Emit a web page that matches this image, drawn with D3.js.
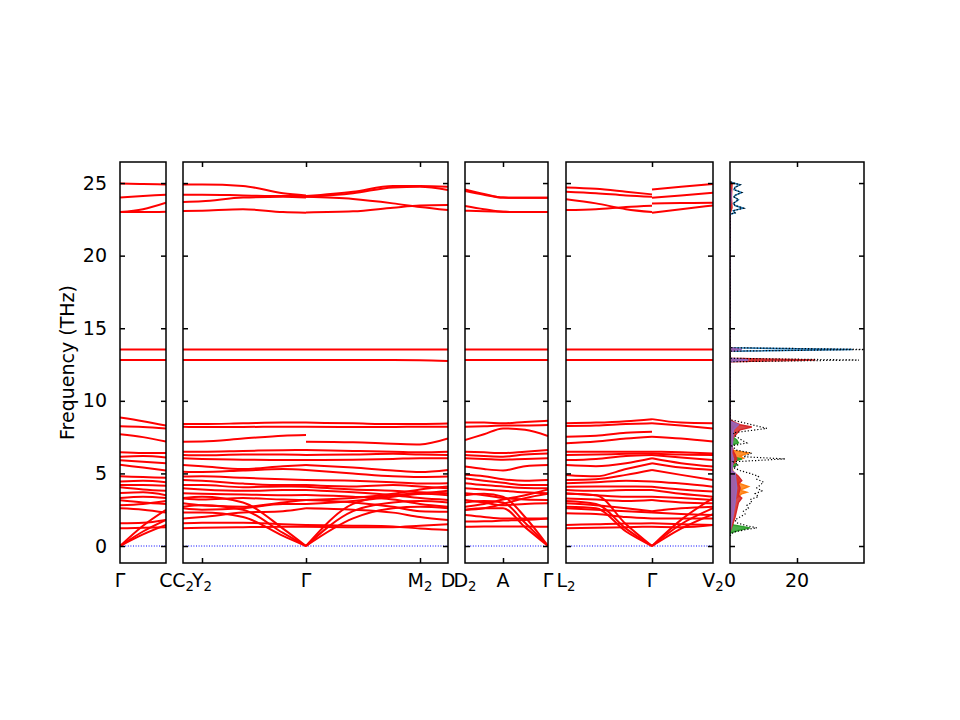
<!DOCTYPE html>
<html>
<head>
<meta charset="utf-8">
<script src="https://cdn.jsdelivr.net/npm/d3@7"></script>
<style>
  body { margin: 0; background: #fff; }
  text { font-family: "DejaVu Sans", sans-serif; }
</style>
</head>
<body>
<svg id="chart" width="960" height="720"></svg>
<script>
// ---- high-symmetry points (path distance units) ----
const p1Ticks = [0, 46];
const p1Labels = ["Γ", "C"];
const p2Ticks = [0, 19, 123, 237, 265];
const p2Labels = ["C_2", "Y_2", "Γ", "M_2", "D"];
const p3Ticks = [0, 38, 83];
const p3Labels = ["D_2", "A", "Γ"];
const p4Ticks = [0, 86, 147];
const p4Labels = ["L_2", "Γ", "V_2"];

const freqTicks = [0, 5, 10, 15, 20, 25];
const dosTicks = [0, 20];

// ---- band frequencies (THz) sampled at k points ----
const p1K = [0, 23, 46];
const p1Bands = [
  [24.97, 24.93, 24.9], [24.0, 24.1, 24.2], [23.0, 23.2, 23.65], [23.0, 23.0, 23.03],
  [13.54, 13.54, 13.54], [12.81, 12.81, 12.81],
  [8.85, 8.6, 8.3], [8.25, 8.2, 8.1], [7.7, 7.5, 7.2], [6.45, 6.4, 6.4],
  [6.15, 6.2, 6.1], [5.9, 5.8, 5.7], [5.6, 5.4, 5.2], [4.8, 4.75, 4.7],
  [4.45, 4.5, 4.4], [4.2, 4.2, 4.15], [4.05, 3.9, 3.8], [3.65, 3.7, 3.5],
  [3.3, 3.4, 3.3], [3.15, 3.0, 2.9], [2.8, 2.9, 3.1], [2.6, 2.5, 2.3],
  [1.56, 1.6, 1.8], [1.22, 1.25, 1.3],
  [0, 1.4, 2.5], [0, 1.0, 1.8], [0, 0.8, 1.45]
];

const p2aK = [0, 19, 60, 100, 123];
const p2aBands = [
  [24.9, 24.9, 24.8, 24.3, 24.15], [24.2, 24.2, 24.15, 24.1, 24.1],
  [23.7, 23.75, 24.0, 24.05, 24.0], [23.07, 23.1, 23.2, 23.0, 22.96],
  [13.54, 13.54, 13.54, 13.54, 13.54], [12.81, 12.81, 12.81, 12.81, 12.81],
  [8.4, 8.4, 8.45, 8.5, 8.5], [8.22, 8.2, 8.2, 8.22, 8.22], [7.19, 7.2, 7.4, 7.6, 7.65],
  [6.5, 6.5, 6.55, 6.6, 6.61], [6.27, 6.25, 6.3, 6.3, 6.27], [6.04, 6.0, 5.95, 5.92, 5.92],
  [5.58, 5.5, 5.3, 5.5, 5.58], [5.12, 5.1, 5.2, 5.3, 5.24], [4.78, 4.8, 4.7, 4.6, 4.55],
  [4.55, 4.5, 4.3, 4.2, 4.2], [4.2, 4.2, 4.05, 4.1, 4.09], [3.98, 3.9, 3.8, 3.85, 3.86],
  [3.63, 3.6, 3.55, 3.5, 3.51], [3.28, 3.2, 3.3, 3.2, 3.17], [2.94, 2.8, 2.7, 3.0, 3.17],
  [2.6, 2.5, 2.6, 2.9, 2.9], [1.9, 2.0, 2.3, 2.4, 2.6], [1.56, 1.6, 1.6, 1.5, 1.45],
  [1.22, 1.25, 1.3, 1.33, 1.33],
  [2.7, 2.8, 2.5, 0.9, 0], [2.3, 2.3, 2.0, 0.7, 0], [3.3, 3.4, 3.0, 1.2, 0]
];

const p2bK = [123, 170, 210, 237, 265];
const p2bBands = [
  [24.1, 24.4, 24.8, 24.8, 24.75], [24.05, 24.3, 24.7, 24.75, 24.52],
  [24.05, 23.9, 23.6, 23.35, 23.14], [22.98, 23.05, 23.3, 23.45, 23.48],
  [13.54, 13.54, 13.54, 13.54, 13.54], [12.81, 12.81, 12.81, 12.8, 12.75],
  [8.5, 8.45, 8.4, 8.4, 8.43], [8.22, 8.2, 8.2, 8.22, 8.22], [7.19, 7.15, 7.05, 7.0, 7.4],
  [6.61, 6.55, 6.5, 6.45, 6.5], [6.27, 6.3, 6.35, 6.3, 6.27], [5.92, 5.95, 6.0, 6.05, 6.04],
  [5.58, 5.4, 5.2, 5.1, 5.24], [5.24, 5.0, 4.8, 4.75, 4.78], [4.55, 4.5, 4.4, 4.3, 4.33],
  [4.2, 4.1, 4.2, 4.1, 3.98], [4.09, 3.9, 3.8, 3.7, 3.63], [3.86, 3.7, 3.5, 3.3, 3.17],
  [3.51, 3.4, 3.2, 2.9, 2.71], [3.17, 3.0, 2.7, 2.4, 2.36], [3.17, 3.3, 3.6, 3.9, 4.1],
  [2.9, 3.1, 3.4, 3.6, 3.8], [2.6, 2.5, 2.3, 2.0, 1.79], [1.45, 1.4, 1.35, 1.2, 1.1],
  [1.33, 1.3, 1.3, 1.4, 1.5],
  [0, 2.9, 3.5, 3.6, 3.5], [0, 2.4, 3.0, 3.1, 3.0], [0, 1.9, 2.6, 2.7, 2.6]
];

const p3K = [0, 19, 38, 60, 83];
const p3Bands = [
  [24.56, 24.25, 24.0, 23.99, 23.99], [24.45, 24.2, 24.0, 23.99, 23.99],
  [23.42, 23.2, 23.02, 23.0, 23.0], [23.1, 23.05, 23.02, 23.0, 23.0],
  [13.54, 13.54, 13.54, 13.54, 13.54], [12.81, 12.81, 12.81, 12.81, 12.81],
  [8.5, 8.5, 8.45, 8.55, 8.63], [8.22, 8.25, 8.3, 8.3, 8.33], [7.3, 7.7, 8.1, 8.0, 7.57],
  [6.5, 6.45, 6.4, 6.5, 6.61], [6.27, 6.2, 6.15, 6.3, 6.38], [6.04, 6.0, 5.95, 6.0, 6.04],
  [5.47, 5.3, 5.2, 5.5, 5.58], [4.9, 4.8, 4.6, 4.5, 4.55], [4.67, 4.5, 4.35, 4.2, 4.2],
  [4.33, 4.2, 4.1, 4.0, 3.98], [3.98, 3.9, 3.8, 3.7, 3.63], [3.63, 3.5, 3.3, 3.2, 3.17],
  [3.17, 3.0, 2.8, 2.9, 2.94], [2.71, 2.9, 3.2, 3.5, 3.9], [2.48, 2.6, 2.9, 3.3, 3.6],
  [2.13, 2.0, 1.9, 1.9, 1.9], [1.68, 1.7, 1.75, 1.8, 1.9], [1.33, 1.35, 1.35, 1.35, 1.33],
  [3.0, 3.1, 3.0, 1.6, 0], [2.5, 2.6, 2.6, 1.3, 0], [3.5, 3.6, 3.4, 2.0, 0]
];

const p4aK = [0, 30, 60, 86];
const p4aBands = [
  [24.7, 24.6, 24.4, 24.22], [24.4, 24.3, 24.15, 24.06],
  [23.88, 23.6, 23.2, 23.0], [23.14, 23.2, 23.35, 23.44],
  [13.54, 13.54, 13.54, 13.54], [12.81, 12.81, 12.81, 12.81],
  [8.45, 8.5, 8.6, 8.74], [8.27, 8.3, 8.4, 8.45], [7.53, 7.6, 7.8, 7.87],
  [7.07, 7.2, 7.4, 7.53], [6.5, 6.5, 6.5, 6.5], [6.27, 6.3, 6.35, 6.38],
  [5.92, 6.0, 6.2, 6.27], [5.58, 5.5, 5.7, 6.04], [4.9, 4.8, 5.3, 5.7],
  [4.55, 4.6, 4.9, 5.24], [4.33, 4.4, 4.5, 4.44], [4.09, 4.1, 4.1, 4.09],
  [3.86, 3.8, 3.85, 3.86], [3.63, 3.5, 3.4, 3.4], [3.28, 3.2, 3.1, 3.17],
  [2.94, 2.8, 2.6, 2.4], [2.6, 2.5, 2.4, 2.3], [2.25, 2.2, 2.0, 1.9],
  [1.45, 1.5, 1.55, 1.56], [1.22, 1.25, 1.3, 1.33],
  [3.6, 3.5, 1.5, 0], [3.1, 2.9, 1.2, 0], [2.7, 2.6, 1.0, 0]
];

const p4bK = [86, 115, 147];
const p4bBands = [
  [24.56, 24.75, 24.93], [23.99, 24.15, 24.33], [23.6, 23.62, 23.65], [22.96, 23.2, 23.46],
  [13.54, 13.54, 13.54], [12.81, 12.81, 12.81],
  [8.74, 8.5, 8.45], [8.45, 8.3, 8.1], [7.53, 7.4, 7.19], [6.5, 6.45, 6.38],
  [6.38, 6.3, 6.27], [6.27, 6.1, 5.92], [6.04, 5.7, 5.47], [5.7, 5.4, 5.24],
  [5.24, 4.9, 4.55], [4.44, 4.3, 4.09], [4.09, 3.9, 3.75], [3.86, 3.6, 3.4],
  [3.4, 3.3, 3.17], [3.17, 3.0, 2.94], [2.4, 2.6, 2.71], [2.3, 2.2, 2.13],
  [1.9, 1.9, 1.9], [1.56, 1.5, 1.45], [1.33, 1.3, 1.45],
  [0, 1.8, 3.3], [0, 1.5, 2.6], [0, 1.2, 2.2]
];

// ---- phonon DOS: [frequency, states] ----
const dosBlue = [
  [0.8, 0], [2, 0.3], [5, 0.3], [8.6, 0.2], [8.8, 0],
  [13.42, 0], [13.54, 36.5], [13.66, 0],
  [22.85, 0], [22.95, 1.5], [23.1, 1], [23.27, 4], [23.45, 1.5], [23.6, 1],
  [23.85, 2.5], [24.05, 1.2], [24.15, 1.5], [24.35, 3.5], [24.55, 1.2],
  [24.7, 1.5], [24.88, 3], [25.0, 1], [25.1, 0]
];
const dosOrange = [
  [3.0, 0], [3.4, 2.5], [3.6, 3.5], [3.7, 5], [3.85, 3], [4.0, 4.5], [4.1, 5.5], [4.3, 3],
  [4.6, 2.5], [4.8, 1.5], [5.0, 1], [5.5, 0.5], [5.9, 2], [6.05, 4], [6.2, 3],
  [6.4, 5.5], [6.6, 0.5], [7.0, 0]
];
const dosGreen = [
  [0.9, 0], [1.1, 3], [1.25, 6], [1.45, 1], [1.7, 0.3], [3.0, 0.5], [5.4, 0.5],
  [5.6, 2], [5.8, 0.3], [6.0, 3.5], [6.15, 0.5], [6.9, 0], [7.1, 2.5], [7.3, 2], [7.6, 0.3],
  [8.0, 0.5], [8.2, 1], [8.4, 0]
];
const dosRed = [
  [1.0, 0], [1.5, 0.8], [2.0, 1.5], [2.5, 2], [3.0, 2.5], [3.3, 3.5], [3.5, 2.5], [4.0, 3],
  [4.3, 2.5], [4.5, 3.5], [4.8, 2.5], [5.0, 1.5], [5.2, 0.5], [5.5, 0.5], [6.0, 2], [6.3, 1.5],
  [6.5, 1], [7.0, 0.5], [7.5, 1], [8.0, 3], [8.2, 6.5], [8.35, 3], [8.5, 1.5], [8.7, 0],
  [12.69, 0], [12.81, 25.5], [12.93, 0], [13.42, 0], [13.54, 2], [13.66, 0],
  [22.9, 0], [23.3, 0.6], [24.0, 0.4], [24.9, 0.6], [25.1, 0]
];
const dosPurple = [
  [1.0, 0], [2.0, 0.8], [3.0, 1.5], [4.0, 2], [5.0, 1.5], [5.2, 0.5], [6.0, 1],
  [6.4, 0.5], [8.0, 1], [8.2, 1.8], [8.35, 2.5], [8.6, 0],
  [12.69, 0], [12.81, 5.5], [12.93, 0], [13.42, 0], [13.54, 3.5], [13.66, 0],
  [23.4, 0], [23.8, 0.3], [24.4, 0.3], [24.7, 0]
];
const dosTotal = [
  [0.7, 0], [0.95, 1], [1.1, 4], [1.25, 8], [1.4, 5], [1.6, 2], [1.8, 1.5], [2.0, 3],
  [2.2, 4.5], [2.4, 4], [2.6, 5.5], [2.8, 5], [3.0, 6.5], [3.2, 6], [3.4, 8.5], [3.6, 7.5],
  [3.8, 9.5], [4.0, 8], [4.2, 9], [4.4, 10], [4.6, 8], [4.8, 8.5], [5.0, 6], [5.2, 3],
  [5.4, 1], [5.6, 2.5], [5.8, 1], [6.0, 16.5], [6.15, 4], [6.3, 5.5], [6.4, 6.5],
  [6.6, 2], [6.9, 0.5], [7.1, 5], [7.3, 3.5], [7.6, 1.5], [7.8, 1],
  [8.1, 11], [8.3, 7.5], [8.5, 4], [8.7, 0],
  [12.69, 0], [12.81, 38.5], [12.93, 0], [13.42, 0], [13.54, 42], [13.66, 0],
  [22.85, 0], [22.95, 1.5], [23.1, 1], [23.27, 4], [23.45, 1.5], [23.6, 1],
  [23.85, 2.5], [24.05, 1.2], [24.15, 1.5], [24.35, 3.5], [24.55, 1.2],
  [24.7, 1.5], [24.88, 3], [25.0, 1], [25.1, 0]
];

// ---- layout ----
const svg = d3.select("#chart");
const plotTop = 162, plotBottom = 563;
const fontSize = 19;
const y = d3.scaleLinear().domain([-1.17, 26.45]).range([plotBottom, plotTop]);

const panels = [
  { left: 120, right: 166, ticks: p1Ticks, labels: p1Labels,
    parts: [{ k: p1K, bands: p1Bands }] },
  { left: 183, right: 448, ticks: p2Ticks, labels: p2Labels,
    parts: [{ k: p2aK, bands: p2aBands }, { k: p2bK, bands: p2bBands }] },
  { left: 465, right: 548, ticks: p3Ticks, labels: p3Labels,
    parts: [{ k: p3K, bands: p3Bands }] },
  { left: 566, right: 713, ticks: p4Ticks, labels: p4Labels,
    parts: [{ k: p4aK, bands: p4aBands }, { k: p4bK, bands: p4bBands }] }
];

function addLabel(g, x, yPos, label) {
  const [base, sub] = label.split("_");
  const t = g.append("text")
    .attr("x", x).attr("y", yPos)
    .attr("text-anchor", "middle")
    .attr("font-size", fontSize)
    .text(base);
  if (sub) {
    t.append("tspan")
      .attr("font-size", fontSize * 0.7)
      .attr("dy", fontSize * 0.2)
      .text(sub);
  }
}

function yTicks(g, left, right, withLabels) {
  g.append("g")
    .attr("transform", `translate(${left},0)`)
    .call(d3.axisLeft(y).tickValues(freqTicks).tickSize(-5).tickSizeOuter(0)
      .tickPadding(withLabels ? 13 : 0)
      .tickFormat(withLabels ? d3.format("d") : ""))
    .call(a => a.select(".domain").remove())
    .call(a => a.selectAll("line").attr("stroke-width", 1.5))
    .call(a => a.selectAll("text").attr("font-size", fontSize)
      .attr("font-family", "DejaVu Sans").attr("fill", "#000"));
  g.append("g")
    .attr("transform", `translate(${right},0)`)
    .call(d3.axisRight(y).tickValues(freqTicks).tickSize(-5).tickSizeOuter(0).tickFormat(""))
    .call(a => a.select(".domain").remove())
    .call(a => a.selectAll("line").attr("stroke-width", 1.5));
}

function xTicks(g, x, values) {
  g.append("g")
    .attr("transform", `translate(0,${plotBottom})`)
    .call(d3.axisBottom(x).tickValues(values).tickSize(-5).tickSizeOuter(0).tickFormat(""))
    .call(a => a.select(".domain").remove())
    .call(a => a.selectAll("line").attr("stroke-width", 1.5));
  g.append("g")
    .attr("transform", `translate(0,${plotTop})`)
    .call(d3.axisTop(x).tickValues(values).tickSize(-5).tickSizeOuter(0).tickFormat(""))
    .call(a => a.select(".domain").remove())
    .call(a => a.selectAll("line").attr("stroke-width", 1.5));
}

panels.forEach((p, i) => {
  const kMax = p.ticks[p.ticks.length - 1];
  const x = d3.scaleLinear().domain([0, kMax]).range([p.left, p.right]);
  const g = svg.append("g");
  const clipId = `clip${i}`;
  svg.append("clipPath").attr("id", clipId)
    .append("rect").attr("x", p.left).attr("y", plotTop)
    .attr("width", p.right - p.left).attr("height", plotBottom - plotTop);

  const plot = g.append("g").attr("clip-path", `url(#${clipId})`);

  // zero line
  plot.append("line")
    .attr("x1", p.left).attr("x2", p.right)
    .attr("y1", y(0)).attr("y2", y(0))
    .attr("stroke", "#0000ff").attr("stroke-width", 1)
    .attr("stroke-dasharray", "1,1.6");

  p.parts.forEach(part => {
    const line = d3.line()
      .x((d, j) => x(part.k[j]))
      .y(d => y(d))
      .curve(d3.curveMonotoneX);
    plot.selectAll(null).data(part.bands).join("path")
      .attr("d", line)
      .attr("fill", "none")
      .attr("stroke", "#ff0000")
      .attr("stroke-width", 2);
  });

  xTicks(g, x, p.ticks.filter(t => t > 0 && t < kMax));
  yTicks(g, p.left, p.right, i === 0);

  g.append("rect")
    .attr("x", p.left).attr("y", plotTop)
    .attr("width", p.right - p.left).attr("height", plotBottom - plotTop)
    .attr("fill", "none").attr("stroke", "#000").attr("stroke-width", 1.5);

  p.ticks.forEach((t, j) => addLabel(g, x(t), 587, p.labels[j]));
});

// ---- DOS panel ----
const dosLeft = 730, dosRight = 864;
const xd = d3.scaleLinear().domain([0, 40]).range([dosLeft, dosRight]);
const gd = svg.append("g");
svg.append("clipPath").attr("id", "clipDos")
  .append("rect").attr("x", dosLeft).attr("y", plotTop)
  .attr("width", dosRight - dosLeft).attr("height", plotBottom - plotTop);
const dplot = gd.append("g").attr("clip-path", "url(#clipDos)");

const area = d3.area()
  .y(d => y(d[0]))
  .x0(xd(0))
  .x1(d => xd(d[1]));
const dosLine = d3.line().y(d => y(d[0])).x(d => xd(d[1]));

// blue is drawn as an outline only; the rest are filled
const partials = [
  [dosBlue, "#1f77b4", 0],
  [dosOrange, "#ff7f0e", 0.85],
  [dosGreen, "#2ca02c", 0.85],
  [dosRed, "#d62728", 0.85],
  [dosPurple, "#9467bd", 0.85]
];
partials.forEach(([data, color, op]) => {
  dplot.append("path").datum(data).attr("d", area)
    .attr("fill", color).attr("fill-opacity", op).attr("stroke", "none");
  dplot.append("path").datum(data).attr("d", dosLine)
    .attr("fill", "none").attr("stroke", color).attr("stroke-width", 1.5);
});
dplot.append("path").datum(dosTotal).attr("d", dosLine)
  .attr("fill", "none").attr("stroke", "#000").attr("stroke-width", 1.2)
  .attr("stroke-dasharray", "1.2,2");

xTicks(gd, xd, dosTicks.filter(t => t > 0));
yTicks(gd, dosLeft, dosRight, false);
gd.append("rect")
  .attr("x", dosLeft).attr("y", plotTop)
  .attr("width", dosRight - dosLeft).attr("height", plotBottom - plotTop)
  .attr("fill", "none").attr("stroke", "#000").attr("stroke-width", 1.5);
dosTicks.forEach(t => addLabel(gd, xd(t), 587, String(t)));

// ---- y axis title ----
svg.append("text")
  .attr("transform", `translate(74,${(plotTop + plotBottom) / 2}) rotate(-90)`)
  .attr("text-anchor", "middle")
  .attr("font-size", fontSize)
  .text("Frequency (THz)");
</script>
</body>
</html>
